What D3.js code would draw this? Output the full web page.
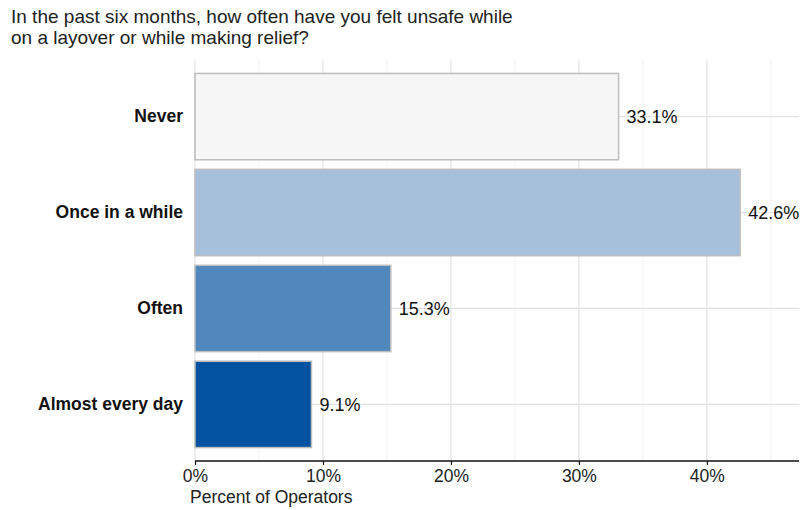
<!DOCTYPE html>
<html>
<head>
<meta charset="utf-8">
<script src="https://cdn.jsdelivr.net/npm/d3@7"></script>
<style>
  html, body { margin: 0; padding: 0; background: #fff; }
  svg { display: block; font-family: "Liberation Sans", Arial, sans-serif; }
</style>
</head>
<body>
<svg id="chart" width="804" height="510"></svg>
<script>
// Survey responses: how often operators felt unsafe
const categories = ["Never", "Once in a while", "Often", "Almost every day"];
const percents = [33.1, 42.6, 15.3, 9.1];
const barColors = ["#f6f6f6", "#a6c0dc", "#5088be", "#0152a0"];
const majorTicks = [0, 10, 20, 30, 40];
const minorTicks = [5, 15, 25, 35, 45];
const titleLines = [
  "In the past six months, how often have you felt unsafe while",
  "on a layover or while making relief?"
];
const xTitle = "Percent of Operators";

const FONT = "'Liberation Sans', Arial, sans-serif";
const svg = d3.select("#chart");
const panel = { left: 195, right: 799, top: 60, bottom: 461 };

const x = d3.scaleLinear().domain([0, 47.2]).range([panel.left, panel.right]);
const y = d3.scaleBand().domain(categories)
  .range([panel.top, panel.bottom])
  .paddingInner(0.1).paddingOuter(0.14);

// Title
svg.append("g").selectAll("text").data(titleLines).join("text")
  .attr("x", 11).attr("y", (d, i) => 23 + i * 21)
  .attr("font-size", 19).attr("fill", "#222")
  .text(d => d);

// Minor vertical gridlines
svg.append("g").selectAll("line").data(minorTicks).join("line")
  .attr("x1", d => x(d)).attr("x2", d => x(d))
  .attr("y1", panel.top).attr("y2", panel.bottom)
  .attr("stroke", "#f3f3f3").attr("stroke-width", 1);

// Major vertical gridlines
svg.append("g").selectAll("line").data(majorTicks).join("line")
  .attr("x1", d => x(d)).attr("x2", d => x(d))
  .attr("y1", panel.top).attr("y2", panel.bottom)
  .attr("stroke", "#e3e3e3").attr("stroke-width", 1.2);

// Horizontal gridlines at category centres
svg.append("g").selectAll("line").data(categories).join("line")
  .attr("x1", panel.left).attr("x2", panel.right)
  .attr("y1", d => y(d) + y.bandwidth() / 2).attr("y2", d => y(d) + y.bandwidth() / 2)
  .attr("stroke", "#e3e3e3").attr("stroke-width", 1.2);

// Bars
svg.append("g").selectAll("rect").data(categories).join("rect")
  .attr("x", x(0))
  .attr("y", d => y(d))
  .attr("width", (d, i) => x(percents[i]) - x(0))
  .attr("height", y.bandwidth())
  .attr("fill", (d, i) => barColors[i])
  .attr("stroke", "#bdbdbd").attr("stroke-width", 1.5);

// Value labels
svg.append("g").selectAll("text").data(categories).join("text")
  .attr("x", (d, i) => x(percents[i]) + 8)
  .attr("y", d => y(d) + y.bandwidth() / 2)
  .attr("dy", "0.35em")
  .attr("font-size", 18).attr("fill", "#111")
  .text((d, i) => percents[i].toFixed(1) + "%");

// Category labels
const yAxis = svg.append("g")
  .attr("transform", `translate(${panel.left},0)`)
  .call(d3.axisLeft(y).tickSize(0).tickPadding(12));
yAxis.select(".domain").remove();
yAxis.selectAll("text")
  .attr("font-size", 17.5).attr("font-weight", "bold").attr("fill", "#111")
  .attr("font-family", FONT);

// Bottom axis
const xAxis = svg.append("g")
  .attr("transform", `translate(0,${panel.bottom})`)
  .call(d3.axisBottom(x).tickValues(majorTicks).tickSize(4).tickPadding(5)
    .tickFormat(d => d + "%"));
xAxis.select(".domain").attr("stroke", "#111").attr("stroke-width", 1.5)
  .attr("d", `M${panel.left},0H${panel.right}`);
xAxis.selectAll(".tick line").attr("stroke", "#111").attr("stroke-width", 1.2);
xAxis.selectAll("text")
  .attr("font-size", 17.5).attr("fill", "#222")
  .attr("font-family", FONT);

// Axis title
svg.append("text")
  .attr("x", 190).attr("y", 503)
  .attr("font-size", 17.5).attr("fill", "#222")
  .text(xTitle);
</script>
</body>
</html>
